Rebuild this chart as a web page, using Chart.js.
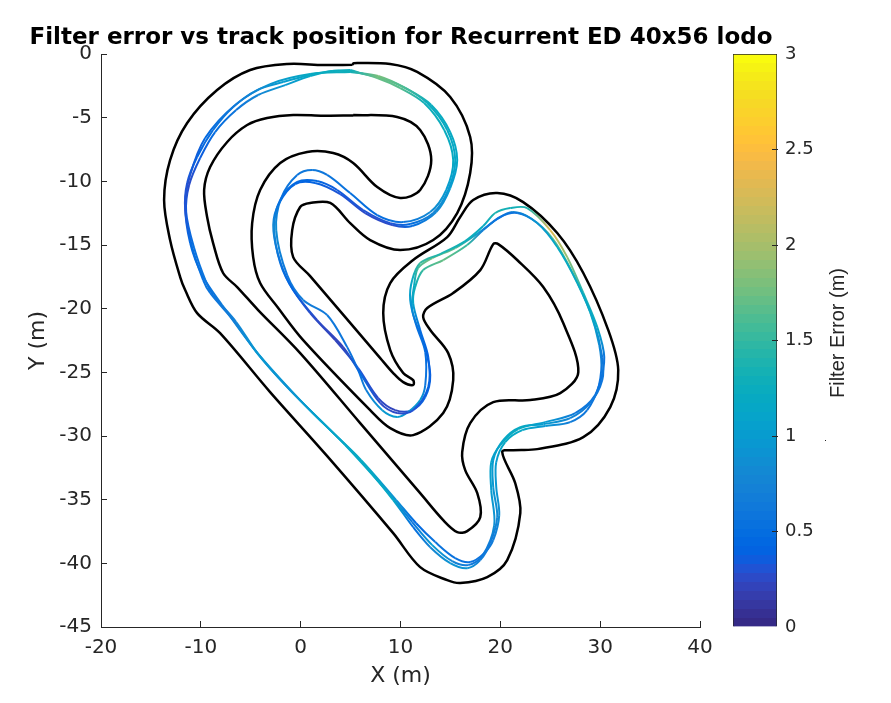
<!DOCTYPE html>
<html>
<head>
<meta charset="utf-8">
<script src="https://cdn.jsdelivr.net/npm/chart.js@4"></script>
<style>
html,body{margin:0;padding:0;background:#fff;}
#wrap{position:relative;width:891px;height:703px;overflow:hidden;}
canvas{position:absolute;top:0;}
#bar{clip-path:inset(0 0 0 3px);}
</style>
</head>
<body>
<div id="wrap">
<canvas id="main" width="891" height="703" style="left:0"></canvas>
<canvas id="bar" width="189" height="703" style="left:702px"></canvas>
</div>
<script>
const titleText = "Filter error vs track position for Recurrent ED 40x56 lodo";
const xTicks = [-20,-10,0,10,20,30,40];
const yTicks = [-45,-40,-35,-30,-25,-20,-15,-10,-5,0];
const colorTicks = [0,0.5,1,1.5,2,2.5,3];

const outerX = [5.2,2.25,-1.35,-5.06,-8.37,-11.37,-13.08,-13.68,-13.08,-12.07,-11.57,-10.37,-8.07,-3.06,2.66,9.27,11.97,14.68,15.98,18.69,20.69,22.0,21.49,20.19,21.29,23.7,28.31,31.01,31.81,30.81,28.31,25.7,22.29,19.69,17.28,15.98,14.68,11.27,8.97,8.27,8.97,10.27,11.27,11.27,10.27,9.27,7.97,0.95,-0.75,-0.85,-0.05,0.95,2.96,4.96,6.96,9.97,13.28,15.68,16.98,16.98,14.98,11.67,8.97,5.3,5.2];
const outerY = [-0.85,-0.86,-0.79,-1.26,-2.83,-5.42,-8.33,-11.47,-14.61,-17.52,-18.54,-20.35,-21.92,-26.55,-31.58,-37.63,-40.3,-41.32,-41.55,-41.08,-39.75,-36.06,-33.7,-31.26,-31.11,-31.03,-30.09,-27.73,-24.82,-21.68,-17.2,-14.06,-11.63,-10.92,-11.47,-12.8,-14.38,-16.18,-17.99,-20.35,-23.25,-25.06,-25.61,-26.0,-25.77,-25.06,-23.88,-17.44,-15.95,-13.83,-12.02,-11.7,-11.7,-13.28,-14.61,-15.4,-14.61,-12.49,-9.35,-6.52,-3.38,-1.41,-0.79,-0.72,-0.85];
const innerX = [5.26,2.25,-0.75,-3.36,-5.36,-7.36,-9.07,-9.67,-9.37,-8.77,-7.77,-6.36,-4.26,-0.05,5.96,11.97,14.28,15.68,16.68,17.99,17.69,16.48,16.18,16.98,19.29,23.0,26.0,27.81,26.3,24.3,21.69,19.79,19.29,17.99,15.28,12.68,12.27,12.98,14.78,15.28,14.28,11.27,8.97,6.96,0.25,-2.25,-4.06,-4.76,-4.86,-4.06,-2.05,0.65,3.26,5.26,7.67,9.97,11.97,13.08,11.97,9.67,5.26];
const innerY = [-4.83,-4.85,-4.79,-5.03,-5.58,-6.91,-8.88,-10.68,-12.8,-14.85,-17.2,-18.3,-20.11,-23.49,-28.99,-34.49,-36.61,-37.55,-37.47,-36.37,-34.49,-32.68,-31.26,-28.99,-27.34,-27.18,-26.63,-24.98,-21.13,-18.3,-16.18,-14.93,-14.93,-16.97,-18.77,-19.95,-20.66,-21.68,-23.49,-25.61,-28.2,-29.93,-29.38,-27.97,-22.47,-19.95,-17.99,-15.95,-13.28,-10.68,-8.56,-7.7,-7.78,-8.56,-10.45,-11.31,-10.68,-8.33,-5.97,-4.95,-4.79];

const lapAX = [4.96,3.16,0.95,-1.75,-4.36,-6.76,-8.77,-10.37,-11.37,-11.57,-10.87,-9.77,-9.07,-6.76,-4.36,-1.35,2.25,5.96,9.27,11.27,12.98,14.98,16.68,17.99,18.99,19.69,19.29,19.29,20.29,22.0,24.3,27.0,29.0,30.21,30.21,29.31,27.71,25.7,23.7,21.69,19.99,18.29,16.68,14.28,12.27,11.47,11.27,11.97,12.78,12.78,11.27,9.67,7.97,5.96,4.26,1.65,-0.75,-2.05,-2.65,-2.05,-0.35,1.65,3.66,6.26,8.97,10.97,13.28,14.78,15.48,14.68,12.67,10.27,7.67,4.96];
const lapAY = [-1.34,-1.34,-1.65,-2.2,-2.83,-4.16,-5.97,-8.09,-10.13,-12.25,-15.16,-17.75,-18.77,-20.9,-23.49,-26.16,-28.99,-31.89,-35.03,-37.16,-38.73,-39.98,-40.38,-39.75,-38.41,-36.37,-34.01,-31.89,-30.32,-29.3,-29.07,-28.59,-27.42,-25.61,-23.8,-20.9,-17.99,-15.16,-13.28,-12.49,-12.8,-13.83,-15.0,-16.18,-16.97,-18.3,-19.56,-21.68,-23.8,-26.16,-27.97,-28.2,-27.42,-25.06,-23.02,-20.9,-18.54,-16.42,-13.59,-11.47,-10.05,-9.98,-10.68,-12.25,-13.28,-13.35,-12.49,-10.68,-8.33,-5.97,-3.85,-2.59,-1.81,-1.34];
const lapAErr = [1.3,1.25,1.2,1.0,0.8,0.65,0.55,0.4,0.3,0.3,0.5,0.55,0.6,0.7,0.95,0.9,1.1,1.2,1.15,0.5,0.75,0.9,0.9,0.7,0.65,0.8,0.95,1.0,1.15,1.2,1.0,0.75,0.65,0.6,0.65,1.1,1.2,1.2,0.9,0.6,0.55,0.7,1.5,1.7,1.5,1.3,1.1,0.5,0.4,0.4,0.3,0.25,0.25,0.5,0.2,0.25,0.4,0.55,0.8,0.5,0.45,0.45,0.35,0.3,0.3,0.5,0.75,0.95,1.15,1.2,1.25,1.6,1.75,1.3];

const lapBX = [4.96,3.16,0.95,-1.55,-4.26,-6.46,-8.57,-10.07,-11.17,-11.47,-10.67,-9.47,-8.77,-6.46,-4.26,-1.25,2.35,6.06,9.57,11.57,13.48,15.48,16.98,18.39,19.29,19.89,19.59,19.59,20.49,22.2,24.5,27.0,28.7,29.91,30.41,29.71,28.31,26.7,25.0,22.69,20.99,19.49,18.29,16.48,13.98,11.97,11.17,10.97,11.57,12.48,12.48,11.97,10.77,9.67,8.17,6.56,5.76,4.66,2.65,0.25,-1.35,-2.45,-1.95,-0.35,1.15,2.65,4.96,7.67,10.27,12.98,14.58,15.28,14.38,12.37,9.97,7.67,4.96];
const lapBY = [-1.26,-1.34,-1.73,-2.44,-3.22,-4.4,-6.13,-8.17,-10.29,-12.41,-15.24,-17.91,-18.93,-21.05,-23.57,-26.24,-29.07,-31.89,-35.03,-36.85,-38.33,-39.59,-39.9,-39.2,-38.18,-36.21,-34.01,-32.05,-30.48,-29.54,-29.22,-28.91,-27.97,-26.0,-23.8,-21.45,-18.77,-15.95,-13.83,-12.1,-12.1,-12.49,-13.51,-14.69,-15.71,-16.42,-17.75,-19.32,-21.29,-23.41,-26.0,-27.18,-28.12,-28.51,-27.97,-26.39,-24.82,-23.02,-20.5,-19.32,-17.36,-13.83,-11.31,-9.5,-9.11,-9.5,-10.92,-12.65,-13.2,-12.41,-10.68,-8.33,-5.97,-3.85,-2.67,-1.89,-1.26];
const lapBErr = [1.25,1.3,1.15,0.95,0.75,0.6,0.5,0.35,0.25,0.35,0.55,0.6,0.55,0.75,1.0,0.85,1.05,1.2,0.9,0.45,0.6,0.55,0.55,0.6,0.7,0.85,0.95,1.0,1.2,1.15,0.95,0.7,0.6,0.55,0.6,1.2,1.4,1.9,2.3,1.4,1.3,1.4,1.2,1.3,1.4,1.5,1.2,1.0,0.55,0.5,0.6,1.0,0.9,1.0,0.95,0.7,0.55,0.6,0.65,0.7,0.6,0.85,0.6,0.6,0.65,0.6,0.55,0.5,0.6,0.8,1.0,1.2,1.25,1.3,1.65,1.7,1.25];

const lapCX = [4.96,0.95,-3.06,-6.56,-9.57,-11.07,-11.57,-11.07,-9.87,-7.87,-4.56,-0.05,4.46,8.97,11.17,13.18,15.18,16.78,18.19,19.39,19.09,19.09,19.99,21.79,24.5,27.5,29.5,30.11,29.91,29.0,27.2,25.2,23.0,21.19,19.69,17.79,15.48,13.18,11.77,11.37,11.17,12.38,12.98,12.48,11.17,9.47,7.77,5.76,3.46,0.95,-1.05,-2.25,-2.75,-2.15,-0.55,1.45,3.96,6.46,9.17,11.17,13.58,14.98,15.68,14.98,13.08,10.47,7.77,4.96];
const lapCY = [-1.41,-1.57,-2.36,-4.0,-6.6,-9.5,-11.86,-14.85,-17.36,-19.72,-23.25,-27.18,-30.71,-34.64,-36.76,-38.57,-39.83,-40.14,-39.43,-37.0,-34.25,-32.05,-30.71,-29.46,-28.91,-28.2,-26.79,-24.82,-22.86,-20.27,-17.12,-14.45,-12.88,-12.41,-12.96,-14.06,-15.24,-16.03,-16.81,-18.15,-20.11,-22.86,-25.22,-26.95,-27.97,-27.97,-27.02,-24.67,-22.47,-20.35,-18.15,-15.79,-13.43,-11.7,-10.21,-10.13,-11.0,-12.49,-13.43,-13.51,-12.41,-10.53,-8.33,-6.13,-4.0,-2.67,-1.73,-1.41];
const lapCErr = [1.3,1.2,0.95,0.65,0.45,0.25,0.3,0.45,0.5,0.7,0.9,0.95,1.15,1.2,0.6,1.0,0.75,0.65,0.6,0.85,1.0,1.1,1.2,1.25,1.0,0.65,0.55,0.6,0.85,1.35,1.55,1.7,1.1,0.75,0.6,1.0,1.6,1.8,1.55,1.2,0.9,0.35,0.35,0.45,0.3,0.2,0.25,0.3,0.2,0.25,0.45,0.65,0.8,0.45,0.4,0.4,0.3,0.25,0.25,0.5,0.8,1.0,1.15,1.2,1.25,1.55,1.8,1.3];

const parula = [[.2081,.1663,.5292],[.2116,.1898,.5777],[.2123,.2138,.6270],[.2081,.2386,.6771],[.1959,.2645,.7279],[.1707,.2919,.7792],[.1253,.3242,.8303],[.0591,.3598,.8683],[.0117,.3875,.8820],[.0060,.4086,.8828],[.0165,.4266,.8786],[.0329,.4430,.8720],[.0498,.4586,.8641],[.0629,.4737,.8554],[.0723,.4887,.8467],[.0779,.5040,.8384],[.0793,.5200,.8312],[.0749,.5375,.8263],[.0641,.5570,.8240],[.0488,.5772,.8228],[.0343,.5966,.8199],[.0265,.6137,.8135],[.0239,.6287,.8038],[.0231,.6418,.7913],[.0228,.6535,.7768],[.0267,.6642,.7607],[.0384,.6743,.7436],[.0590,.6838,.7254],[.0843,.6928,.7062],[.1133,.7015,.6859],[.1453,.7098,.6646],[.1801,.7177,.6424],[.2178,.7250,.6193],[.2586,.7317,.5954],[.3022,.7376,.5712],[.3482,.7424,.5473],[.3953,.7459,.5244],[.4420,.7481,.5033],[.4871,.7491,.4840],[.5300,.7491,.4661],[.5709,.7485,.4494],[.6099,.7473,.4337],[.6473,.7456,.4188],[.6834,.7435,.4044],[.7184,.7411,.3905],[.7525,.7384,.3768],[.7858,.7356,.3633],[.8185,.7327,.3498],[.8507,.7299,.3360],[.8824,.7274,.3217],[.9139,.7258,.3063],[.9450,.7261,.2886],[.9739,.7314,.2666],[.9938,.7455,.2403],[.9990,.7653,.2164],[.9955,.7861,.1967],[.9880,.8066,.1794],[.9789,.8271,.1633],[.9697,.8481,.1475],[.9626,.8705,.1309],[.9589,.8949,.1132],[.9598,.9218,.0948],[.9661,.9514,.0755],[.9763,.9831,.0538]];
const errMax = 3;
const textColor = '#262626';

function colorOf(e){
  const i = Math.max(0, Math.min(parula.length-1, Math.floor(e/errMax*parula.length)));
  const c = parula[i];
  return `rgb(${Math.round(c[0]*255)},${Math.round(c[1]*255)},${Math.round(c[2]*255)})`;
}
function pts(xs, ys){ return xs.map((x,i)=>({x, y:ys[i]})); }
function track(label, xs, ys){
  return {label, data:pts(xs,ys), showLine:true, borderColor:'#000', borderWidth:2.5, pointRadius:0, tension:0.33, fill:false};
}
function lap(label, xs, ys, errs){
  return {label, data:pts(xs,ys), showLine:true, borderColor:colorOf(errs[0]), borderWidth:2, pointRadius:0, tension:0.33, fill:false,
    segment:{borderColor:(ctx)=>{
      const g = ctx.chart.ctx.createLinearGradient(ctx.p0.x,ctx.p0.y,ctx.p1.x,ctx.p1.y);
      g.addColorStop(0,colorOf(errs[ctx.p0DataIndex]));
      g.addColorStop(1,colorOf(errs[ctx.p1DataIndex]));
      return g;
    }}};
}

new Chart(document.getElementById('main'),{
  type:'scatter',
  data:{datasets:[
    lap('Lap 1',lapAX,lapAY,lapAErr),
    lap('Lap 2',lapBX,lapBY,lapBErr),
    lap('Lap 3',lapCX,lapCY,lapCErr),
    track('Outer boundary',outerX,outerY),
    track('Inner boundary',innerX,innerY)
  ]},
  options:{
    responsive:false, animation:false, devicePixelRatio:1,
    layout:{padding:{left:0,right:89,top:0,bottom:0}},
    plugins:{
      legend:{display:false}, tooltip:{enabled:false},
      title:{display:true,text:titleText,color:'#000',align:'center',
        font:{family:'"DejaVu Sans"',size:23,weight:'bold',lineHeight:'27px'},
        padding:{top:24.5,bottom:2.5}}
    },
    scales:{
      x:{type:'linear',min:-20,max:40,
        afterFit:s=>{s.height=76;},
        afterBuildTicks:s=>{s.ticks=xTicks.map(v=>({value:v}));},
        grid:{drawOnChartArea:false,drawTicks:true,tickLength:-6,color:textColor,lineWidth:1},
        border:{color:textColor,width:1},
        ticks:{color:textColor,font:{family:'"DejaVu Sans"',size:20},padding:14.5,maxRotation:0,autoSkip:false},
        title:{display:true,text:'X (m)',color:textColor,font:{family:'"DejaVu Sans"',size:22},padding:{top:0,bottom:13.8}}
      },
      y:{type:'linear',min:-45,max:0,position:'left',
        afterFit:s=>{s.width=101;},
        afterBuildTicks:s=>{s.ticks=yTicks.map(v=>({value:v}));},
        grid:{drawOnChartArea:false,drawTicks:true,tickLength:-6,color:textColor,lineWidth:1},
        border:{color:textColor,width:1},
        ticks:{color:textColor,font:{family:'"DejaVu Sans"',size:20},padding:15,autoSkip:false},
        title:{display:true,text:'Y (m)',color:textColor,font:{family:'"DejaVu Sans"',size:22},padding:{top:24.8,bottom:0}}
      },
      pad:{type:'linear',position:'right',display:true,
        afterFit:s=>{s.width=102;},
        grid:{display:false,color:'rgba(0,0,0,0)'},
        border:{display:false,width:0,color:'rgba(0,0,0,0)'},
        ticks:{display:false}
      }
    }
  }
});

new Chart(document.getElementById('bar'),{
  type:'bar',
  data:{labels:['Filter Error'],datasets:[{
    data:[errMax],barPercentage:1,categoryPercentage:1,borderColor:textColor,borderWidth:1,
    backgroundColor:(ctx)=>{
      const a = ctx.chart.chartArea;
      if(!a) return '#000';
      const g = ctx.chart.ctx.createLinearGradient(0,a.bottom,0,a.top);
      parula.forEach((c,i)=>{
        const col = `rgb(${Math.round(c[0]*255)},${Math.round(c[1]*255)},${Math.round(c[2]*255)})`;
        g.addColorStop(i/parula.length,col);
        g.addColorStop((i+1)/parula.length,col);
      });
      return g;
    }
  }]},
  options:{
    responsive:false, animation:false, devicePixelRatio:1,
    layout:{padding:{left:31,right:0,top:54,bottom:76}},
    plugins:{legend:{display:false},tooltip:{enabled:false}},
    scales:{
      x:{display:false},
      y:{type:'linear',min:0,max:errMax,position:'right',
        afterFit:s=>{s.width=114;},
        afterBuildTicks:s=>{s.ticks=colorTicks.map(v=>({value:v}));},
        grid:{drawOnChartArea:false,drawTicks:true,tickLength:-5,z:1,
          tickColor:(ctx)=>(ctx.tick && (ctx.tick.value===0 || ctx.tick.value===errMax)) ? 'rgba(0,0,0,0)' : textColor},
        border:{color:textColor},
        ticks:{color:textColor,font:{family:'"DejaVu Sans"',size:18},padding:13,autoSkip:false,
          callback:v=>String(v)}
      }
    }
  },
  plugins:[{id:'barLabel',afterDraw(chart){
    const c = chart.ctx;
    c.save();
    c.fillStyle = textColor;
    c.fillRect(123,440,1,1);
    c.translate(136,333);
    c.rotate(-Math.PI/2);
    c.font = '20px "Liberation Sans"';
    c.textAlign = 'center';
    c.textBaseline = 'middle';
    c.fillText('Filter Error (m)',0,0);
    c.restore();
  }}]
});
</script>
</body>
</html>
